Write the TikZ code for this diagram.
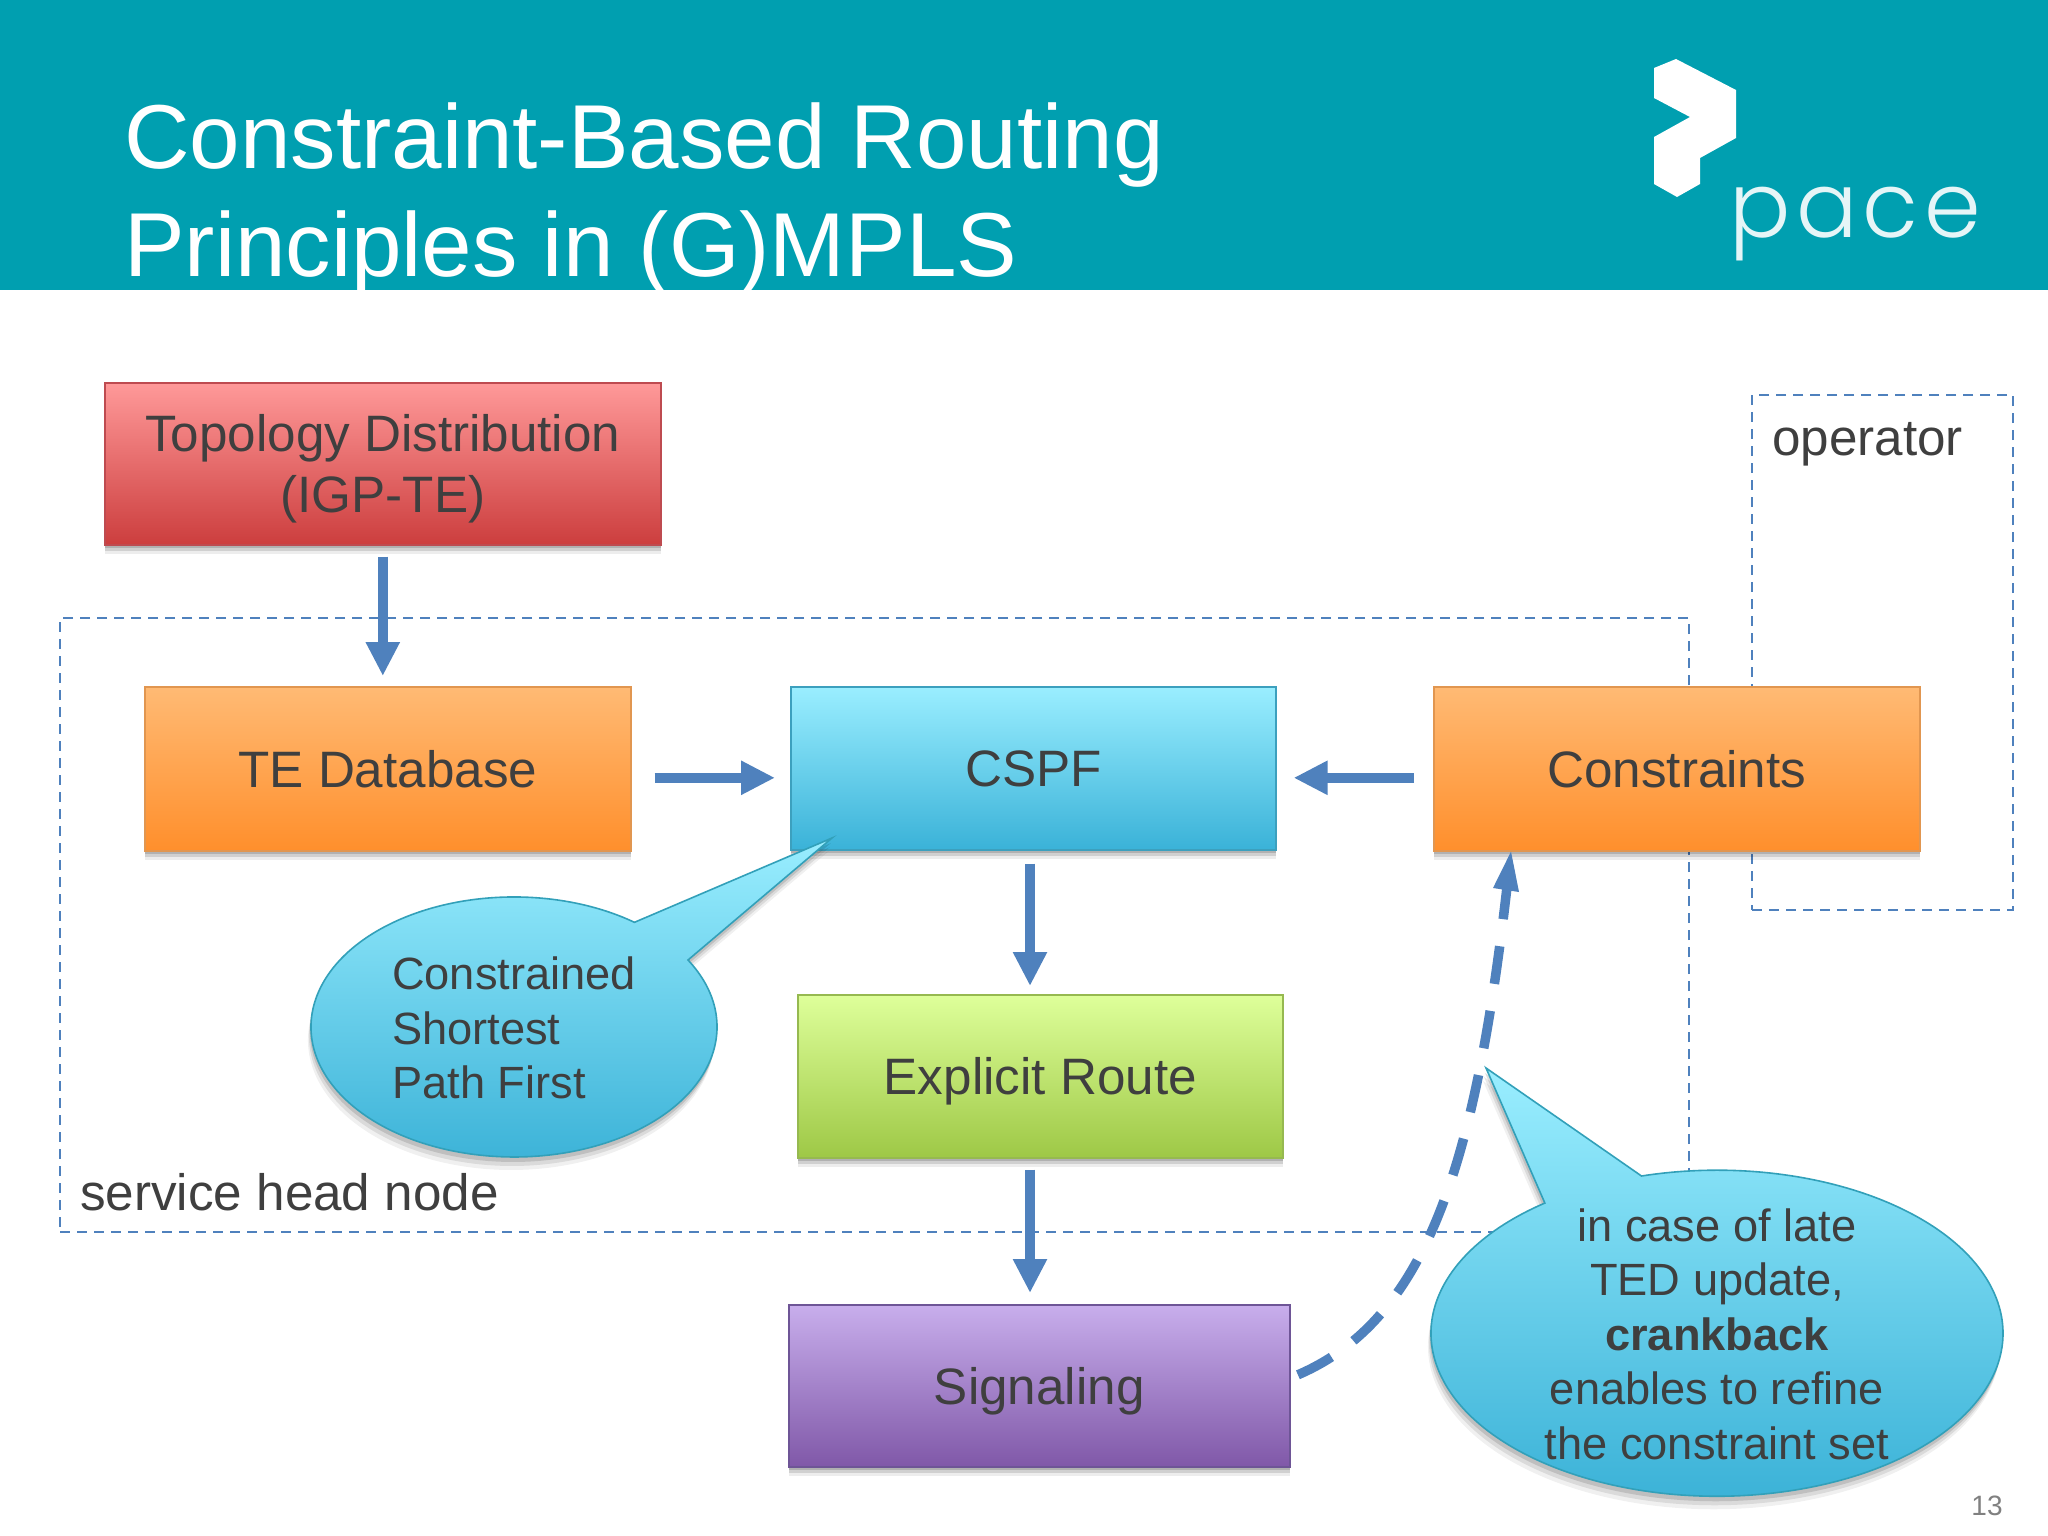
\documentclass[tikz,border=0pt]{standalone}
\usepackage{fontspec}
\setmainfont{Liberation Sans}
\newfontfamily\pacefont[UprightFont=* Light,LetterSpace=6]{Poppins}
\usetikzlibrary{arrows.meta,shadows,shapes.geometric}
\definecolor{headerteal}{HTML}{009FB0}
\definecolor{txt}{HTML}{3F3F3F}
\definecolor{flow}{HTML}{4F81BD}
\tikzset{
  x=1pt,y=-1pt,
  softshadow/.style={
    general shadow={shadow xshift=0pt,shadow yshift=-9pt,opacity=.07,fill=black},
    general shadow={shadow xshift=0pt,shadow yshift=-6pt,opacity=.12,fill=black},
    general shadow={shadow xshift=0pt,shadow yshift=-3pt,opacity=.15,fill=black}},
  bubbleshadow/.style={
    general shadow={shadow xshift=-3pt,shadow yshift=-13pt,opacity=.06,fill=black},
    general shadow={shadow xshift=-2pt,shadow yshift=-9pt,opacity=.09,fill=black},
    general shadow={shadow xshift=-1pt,shadow yshift=-5pt,opacity=.12,fill=black}},
  boxbase/.style={rectangle,inner sep=0pt,line width=1.6pt,text=txt,align=center,font=\fontsize{51.2}{61}\selectfont,text depth=0pt,softshadow,anchor=north west},
  redbox/.style={boxbase,draw={rgb,255:red,190;green,75;blue,80},top color={rgb,255:red,255;green,153;blue,153},bottom color={rgb,255:red,204;green,62;blue,62}},
  orangebox/.style={boxbase,draw={rgb,255:red,225;green,150;blue,80},top color={rgb,255:red,255;green,186;blue,116},bottom color={rgb,255:red,255;green,143;blue,44}},
  bluebox/.style={boxbase,draw={rgb,255:red,60;green,160;blue,190},top color={rgb,255:red,154;green,238;blue,255},bottom color={rgb,255:red,58;green,178;blue,216}},
  greenbox/.style={boxbase,draw={rgb,255:red,150;green,185;blue,80},top color={rgb,255:red,222;green,255;blue,154},bottom color={rgb,255:red,158;green,200;blue,70}},
  purplebox/.style={boxbase,draw={rgb,255:red,110;green,85;blue,150},top color={rgb,255:red,200;green,174;blue,236},bottom color={rgb,255:red,128;green,88;blue,168}},
  regionbox/.style={draw=flow,line width=2pt,dash pattern=on 10pt off 7pt},
  flowarrow/.style={draw=flow,line width=10pt,-{Triangle[length=34pt,width=32pt]},shorten <=11pt,shorten >=10pt},
  crank/.style={draw=flow,line width=9.5pt,dash pattern=on 38pt off 27.3pt},
  crankhead/.style={fill=flow},
  bubble/.style={draw={rgb,255:red,50;green,160;blue,185},line width=1.6pt,top color={rgb,255:red,154;green,238;blue,255},bottom color={rgb,255:red,56;green,176;blue,214},bubbleshadow},
  bubbletext/.style={text=txt,font=\fontsize{45.2}{54.5}\selectfont,inner sep=0pt},
  plain/.style={text=txt,font=\fontsize{51.2}{61}\selectfont,inner sep=0pt,anchor=base west},
}
\begin{document}
\begin{tikzpicture}
\useasboundingbox (0,0) rectangle (2048,1536);
\fill[white] (0,0) rectangle (2048,1536);
\fill[headerteal] (0,0) rectangle (2048,290);
\node[anchor=base west,inner sep=0pt,text=white,font=\fontsize{90.8}{108}\selectfont] (title1) at (124,168) {Constraint-Based Routing};
\node[anchor=base west,inner sep=0pt,text=white,font=\fontsize{90.8}{108}\selectfont] (title2) at (124,276) {Principles in (G)MPLS};
% logo
\fill[white,line join=round] (1676,59) -- (1736,90) -- (1736,138) -- (1700,158) -- (1700,184) -- (1677,197) -- (1654,184) -- (1654,137) -- (1690,117) -- (1654,98) -- (1654,68) -- cycle;
\node[anchor=base west,inner sep=0pt,text=white!90!headerteal,font=\pacefont\fontsize{91}{92}\selectfont] (pace) at (1729,237) {pace};
% regions
\node[regionbox,rectangle,anchor=north west,minimum width=1629pt,minimum height=614pt,inner sep=0pt] (head) at (59,617) {};
\node[regionbox,rectangle,anchor=north west,minimum width=261pt,minimum height=515pt,inner sep=0pt] (oper) at (1751,394) {};
\node[plain] (headlbl) at (80,1210) {service head node};
\node[plain] (operlbl) at (1772,455) {operator};
% boxes
\node[redbox,minimum width=556pt,minimum height=162pt] (topo) at (104,382) {Topology Distribution\\(IGP-TE)};
\node[orangebox,minimum width=486pt,minimum height=164pt] (te) at (144,686) {TE Database};
\node[bluebox,minimum width=485pt,minimum height=163pt] (cspf) at (790,686) {CSPF};
\node[orangebox,minimum width=486pt,minimum height=164pt] (cons) at (1433,686) {Constraints};
\node[greenbox,minimum width=485pt,minimum height=163pt] (route) at (797,994) {Explicit Route};
\node[purplebox,minimum width=501pt,minimum height=162pt] (sig) at (788,1304) {Signaling};
% arrows
\draw[flowarrow] (topo.south) -- (topo.south |- te.north);
\draw[flowarrow,shorten <=23pt,shorten >=15pt] ([yshift=-9pt]te.east) -- ([yshift=-9pt]te.east -| cspf.west);
\draw[flowarrow,shorten <=19pt,shorten >=17pt] ([yshift=-9pt]cons.west) -- ([yshift=-9pt]cons.west -| cspf.east);
\draw[flowarrow,shorten <=13pt,shorten >=8pt] (cspf.south -| 1030,0) -- (route.north -| 1030,0);
\draw[flowarrow,shorten >=11pt] (route.south -| 1030,0) -- (sig.north -| 1030,0);
% crankback
\coordinate (crankend) at ([xshift=78pt]cons.south west);
\draw[crank,shorten <=30pt] (crankend) .. controls (1475,1170) and (1425,1325) .. ([yshift=8pt]sig.east);
\fill[crankhead] (crankend) -- (1519,892) -- (1493,888) -- cycle;
% callouts
\path[bubble] (832,838) -- (688,960) arc[start angle=31,end angle=-306.4,x radius=203pt,y radius=130pt] -- cycle;
\node[bubbletext,align=left,anchor=west] (b1) at (392,1028) {Constrained\\Shortest\\Path First};
\path[bubble] (1486,1068) -- (1641.5,1176) arc[start angle=105.3,end angle=-233,x radius=286pt,y radius=163pt] -- cycle;
\node[bubbletext,align=center] (b2) at (1717,1334) {in case of late\\TED update,\\\textbf{crankback}\\enables to refine\\the constraint set};
\node[inner sep=0pt,text=black!50,font=\fontsize{28}{30}\selectfont] (pg) at (1987,1506) {13};
\end{tikzpicture}
\end{document}
